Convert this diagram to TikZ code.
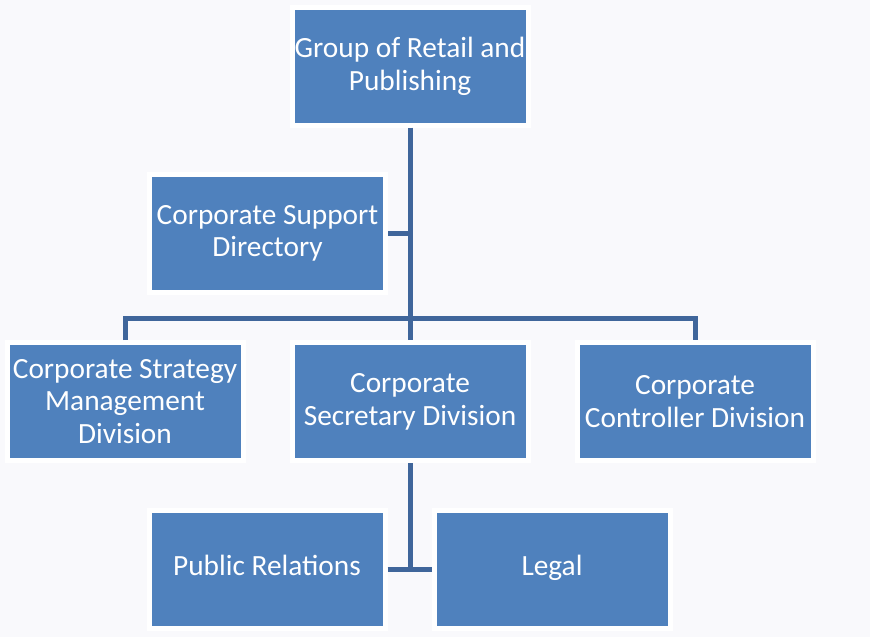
\documentclass[tikz,border=0pt]{standalone}
\usepackage{fontspec}
\setmainfont{Carlito}
\usepackage{xcolor}
\usetikzlibrary{calc, positioning}
\definecolor{boxblue}{RGB}{79,129,189}
\definecolor{linkblue}{RGB}{64,102,155}
\definecolor{pagebg}{RGB}{249,249,252}

\tikzset{
  unit/.style={rectangle, fill=boxblue, draw=white, line width=3.75pt,
    minimum width=177pt, minimum height=88.5pt, inner sep=1pt,
    text=white, align=center, font=\fontsize{22}{24.5}\selectfont},
  link/.style={draw=linkblue, line width=3.75pt, line join=miter}
}

\begin{document}
\begin{tikzpicture}[x=0.75pt, y=-0.75pt]
\fill[pagebg] (0,0) rectangle (870,637);
\useasboundingbox (0,0) rectangle (870,637);

% boxes
\node[unit] (group)  at (410,66)    {Group of Retail and\\Publishing};
\node[unit] (support) at (267.5,233.5) {Corporate Support\\Directory};
\node[unit] (strategy) at (125,401.5) {Corporate Strategy\\Management\\Division};
\node[unit] (secretary) at (410,401.5) {Corporate\\Secretary Division};
\node[unit] (controller) at (695,401.5) {Corporate\\Controller Division};
\node[unit] (pubrel) at (267,569) {Public Relations\strut};
\node[unit] (legal)  at (552,569) {Legal\strut};

% connectors
\coordinate (bar) at (410,318);
\draw[link] (group.south) -- (secretary.north);
\draw[link] (support.east) -- (support.east -| group.south);
\draw[link] (strategy.north) |- (bar) -| (controller.north);
\draw[link] (secretary.south) -- (secretary.south |- pubrel.east);
\draw[link] (pubrel.east) -- (legal.west);
\end{tikzpicture}
\end{document}
